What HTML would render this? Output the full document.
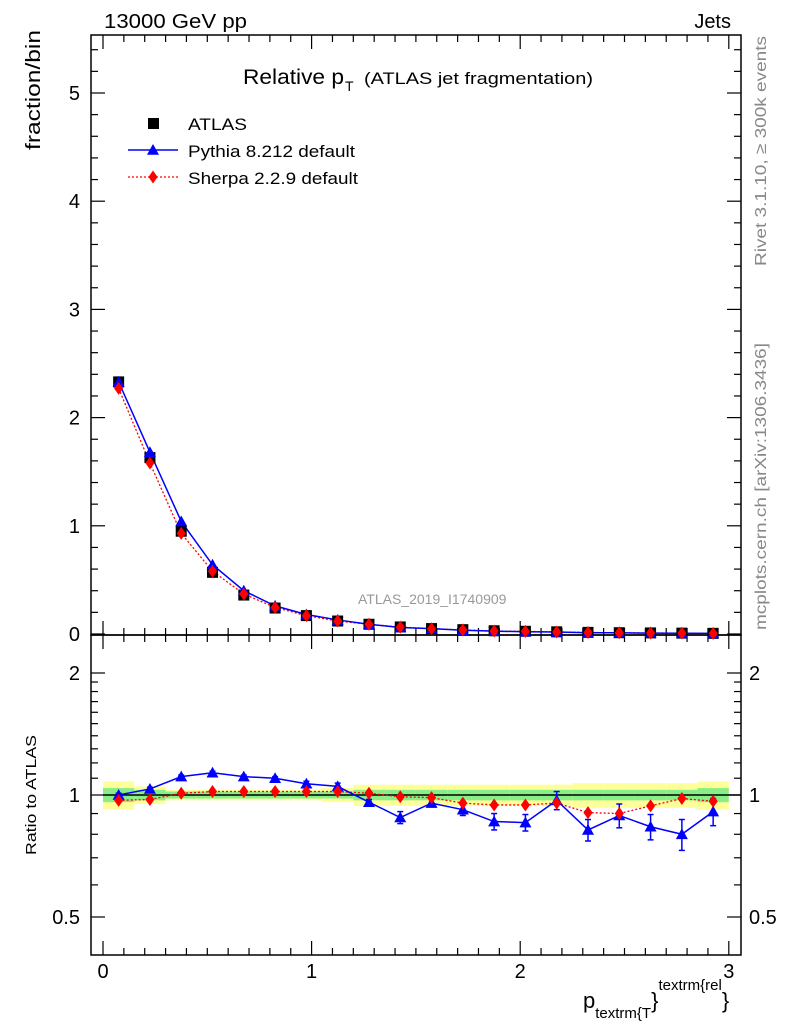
<!DOCTYPE html>
<html><head><meta charset="utf-8"><style>
body{margin:0;background:#fff}
svg text{font-family:"Liberation Sans",sans-serif}
</style></head><body>
<svg id="c" width="786" height="1024" xmlns="http://www.w3.org/2000/svg">
<rect width="786" height="1024" fill="#fff"/>
<g id="g"></g>
</svg>
<script>
const xCenters=[0.075,0.225,0.375,0.525,0.675,0.825,0.975,1.125,1.275,1.425,1.575,1.725,1.875,2.025,2.175,2.325,2.475,2.625,2.775,2.925];
const atlasVals=[2.33,1.63,0.95,0.57,0.36,0.24,0.17,0.12,0.09,0.065,0.05,0.04,0.03,0.025,0.02,0.015,0.012,0.01,0.008,0.006];
const pythiaVals=[2.33,1.68,1.04,0.64,0.40,0.26,0.18,0.13,0.09,0.06,0.05,0.035,0.026,0.021,0.019,0.012,0.011,0.008,0.0064,0.0055];
const sherpaVals=[2.27,1.58,0.93,0.58,0.37,0.245,0.17,0.12,0.09,0.064,0.049,0.038,0.028,0.024,0.019,0.014,0.011,0.009,0.008,0.006];
const pythiaRatio=[1.0,1.035,1.11,1.135,1.11,1.10,1.066,1.05,0.96,0.88,0.955,0.92,0.86,0.855,0.97,0.82,0.89,0.835,0.80,0.91];
const pythiaErr=[0.01,0.01,0.01,0.01,0.01,0.01,0.015,0.02,0.015,0.03,0.02,0.03,0.04,0.04,0.05,0.05,0.06,0.06,0.07,0.07];
const sherpaRatio=[0.97,0.975,1.01,1.02,1.02,1.02,1.02,1.02,1.01,0.99,0.985,0.955,0.945,0.945,0.955,0.905,0.90,0.94,0.98,0.965];
const bandGreen=[0.04,0.03,0.02,0.02,0.02,0.02,0.02,0.02,0.03,0.03,0.03,0.03,0.03,0.03,0.03,0.03,0.03,0.03,0.03,0.04];
const bandYellow=[0.08,0.05,0.03,0.03,0.03,0.03,0.03,0.04,0.06,0.06,0.06,0.06,0.06,0.06,0.06,0.07,0.07,0.07,0.07,0.08];
const mainTicks=[0,1,2,3,4,5];
const ratioTicks=[0.5,1,2];
const xTicks=[0,1,2,3];

const NS="http://www.w3.org/2000/svg",G=document.getElementById('g');
function el(t,a,txt){const e=document.createElementNS(NS,t);for(const k in a)e.setAttribute(k,a[k]);if(txt!=null)e.textContent=txt;G.appendChild(e);return e;}
const L=91,R=741,MT=35,MB=635,RT=635,RB=955;
const X=v=>103+v*208.6;
const Y=v=>634-v*108.2;
const YR=v=>795-122*Math.log2(v);

let f=el('rect',{x:L,y:MT,width:R-L,height:MB-MT,fill:'none',stroke:'#000','stroke-width':1.5});

f=el('rect',{x:L,y:RT,width:R-L,height:RB-RT,fill:'none',stroke:'#000','stroke-width':1.5});


for(let i=0;i<=30;i++){const v=i/10,x=X(v),len=i%10==0?14:7;if(x>R)continue;
 for(const [b,t] of [[MB,MT],[RB,RT]]){el('line',{x1:x,x2:x,y1:b,y2:b-len,stroke:'#000','stroke-width':1.2});el('line',{x1:x,x2:x,y1:t,y2:t+len,stroke:'#000','stroke-width':1.2});}}
xTicks.forEach(v=>{const t=el('text',{x:X(v),y:978,'font-size':20,'text-anchor':'middle'},v);});
for(let i=0;i<=27;i++){const v=i/5,y=Y(v),len=i%5==0?14:7;if(y<MT)continue;
 el('line',{x1:L,x2:L+len,y1:y,y2:y,stroke:'#000','stroke-width':1.2});el('line',{x1:R,x2:R-len,y1:y,y2:y,stroke:'#000','stroke-width':1.2});}
mainTicks.forEach(v=>{const t=el('text',{x:80,y:Y(v)+7,'font-size':20,'text-anchor':'end'},v);});
[0.5,0.6,0.7,0.8,0.9,1,1.1,1.2,1.3,1.4,1.5,1.6,1.7,1.8,1.9,2].forEach(v=>{const y=YR(v),len=[0.5,1,2].includes(v)?14:7;
 el('line',{x1:L,x2:L+len,y1:y,y2:y,stroke:'#000','stroke-width':1.2});el('line',{x1:R,x2:R-len,y1:y,y2:y,stroke:'#000','stroke-width':1.2});});
ratioTicks.forEach(v=>{const y=YR(v);let t=el('text',{x:80,y:y+7,'font-size':20,'text-anchor':'end'},v);
 t=el('text',{x:749,y:y+7,'font-size':20},v);});

xCenters.forEach((c,i)=>{const x0=X(c-0.075),w=X(c+0.075)-x0;
 let r=el('rect',{x:x0,y:YR(1+bandYellow[i]),width:w,height:YR(1-bandYellow[i])-YR(1+bandYellow[i]),fill:'#ffff99'});
 r=el('rect',{x:x0,y:YR(1+bandGreen[i]),width:w,height:YR(1-bandGreen[i])-YR(1+bandGreen[i]),fill:'#88ee88'});});
el('line',{x1:X(0),x2:R,y1:YR(1),y2:YR(1),stroke:'#000','stroke-width':1.5});

function tri(x,y,s){return `${x},${y-s} ${x-s},${y+s*0.8} ${x+s},${y+s*0.8}`;}
function dia(x,y,s){return `${x},${y-s} ${x-s*0.7},${y} ${x},${y+s} ${x+s*0.7},${y}`;}

let p=el('polyline',{points:xCenters.map((c,i)=>X(c)+','+Y(sherpaVals[i])).join(' '),fill:'none',stroke:'#f00','stroke-width':1.3,'stroke-dasharray':'2,2'});

p=el('polyline',{points:xCenters.map((c,i)=>X(c)+','+Y(pythiaVals[i])).join(' '),fill:'none',stroke:'#00f','stroke-width':1.5});

xCenters.forEach((c,i)=>{let m=el('rect',{x:X(c)-5.5,y:Y(atlasVals[i])-5.5,width:11,height:11,fill:'#000'});
 m=el('polygon',{points:tri(X(c),Y(pythiaVals[i]),6),fill:'#00f'});
 m=el('polygon',{points:dia(X(c),Y(sherpaVals[i]),6.5),fill:'#f00'});});

p=el('polyline',{points:xCenters.map((c,i)=>X(c)+','+YR(sherpaRatio[i])).join(' '),fill:'none',stroke:'#f00','stroke-width':1.3,'stroke-dasharray':'2,2'});

p=el('polyline',{points:xCenters.map((c,i)=>X(c)+','+YR(pythiaRatio[i])).join(' '),fill:'none',stroke:'#00f','stroke-width':1.5});

xCenters.forEach((c,i)=>{const x=X(c),y1=YR(pythiaRatio[i]+pythiaErr[i]),y2=YR(pythiaRatio[i]-pythiaErr[i]);
 el('line',{x1:x,x2:x,y1:y1,y2:y2,stroke:'#00f','stroke-width':1.5});el('line',{x1:x-3,x2:x+3,y1:y1,y2:y1,stroke:'#00f','stroke-width':1.5});el('line',{x1:x-3,x2:x+3,y1:y2,y2:y2,stroke:'#00f','stroke-width':1.5});
 let m=el('polygon',{points:tri(x,YR(pythiaRatio[i]),6),fill:'#00f'});
 m=el('polygon',{points:dia(x,YR(sherpaRatio[i]),6.5),fill:'#f00'});});

let lg=el('rect',{x:148,y:118,width:11,height:11,fill:'#000'});
el('line',{x1:128,x2:178,y1:150,y2:150,stroke:'#00f','stroke-width':1.5});
lg=el('polygon',{points:tri(153,150,6),fill:'#00f'});
el('line',{x1:128,x2:178,y1:177,y2:177,stroke:'#f00','stroke-width':1.3,'stroke-dasharray':'2,2'});
lg=el('polygon',{points:dia(153,177,6.5),fill:'#f00'});
[['ATLAS',130,'legend-atlas',59],['Pythia 8.212 default',157,'legend-pythia',167],['Sherpa 2.2.9 default',184,'legend-sherpa',170]].forEach(a=>{const t=el('text',{x:188,y:a[1],'font-size':17,textLength:a[3],lengthAdjust:'spacingAndGlyphs'},a[0]);});

let t=el('text',{x:104,y:28,'font-size':20,textLength:143,lengthAdjust:'spacingAndGlyphs'},'13000 GeV pp');
t=el('text',{x:731,y:28,'font-size':20,'text-anchor':'end'},'Jets');
t=el('text',{x:243,y:84,'font-size':21,textLength:101,lengthAdjust:'spacingAndGlyphs'},'Relative p');
t=el('text',{x:345,y:91,'font-size':14},'T');
t=el('text',{x:364,y:84,'font-size':17,textLength:229,lengthAdjust:'spacingAndGlyphs'},'(ATLAS jet fragmentation)');
t=el('text',{x:40,y:150,'font-size':20,transform:'rotate(-90 40 150)',textLength:120,lengthAdjust:'spacingAndGlyphs'},'fraction/bin');
t=el('text',{x:36,y:855,'font-size':15,transform:'rotate(-90 36 855)',textLength:120,lengthAdjust:'spacingAndGlyphs'},'Ratio to ATLAS');
t=el('text',{x:358,y:604,'font-size':14,fill:'#999'},'ATLAS_2019_I1740909');
t=el('text',{x:766,y:266,'font-size':16,fill:'#888',transform:'rotate(-90 766 266)',textLength:230,lengthAdjust:'spacingAndGlyphs'},'Rivet 3.1.10, ≥ 300k events');
t=el('text',{x:766,y:630,'font-size':16,fill:'#888',transform:'rotate(-90 766 630)',textLength:287,lengthAdjust:'spacingAndGlyphs'},'mcplots.cern.ch [arXiv:1306.3436]');
t=el('text',{x:583,y:1008,'font-size':22},'');
t.innerHTML='p<tspan font-size="15" dy="10">textrm{T</tspan><tspan dy="-10">}</tspan><tspan font-size="15" dy="-18">textrm{rel</tspan><tspan dy="18">}</tspan>';
</script>
</body></html>
